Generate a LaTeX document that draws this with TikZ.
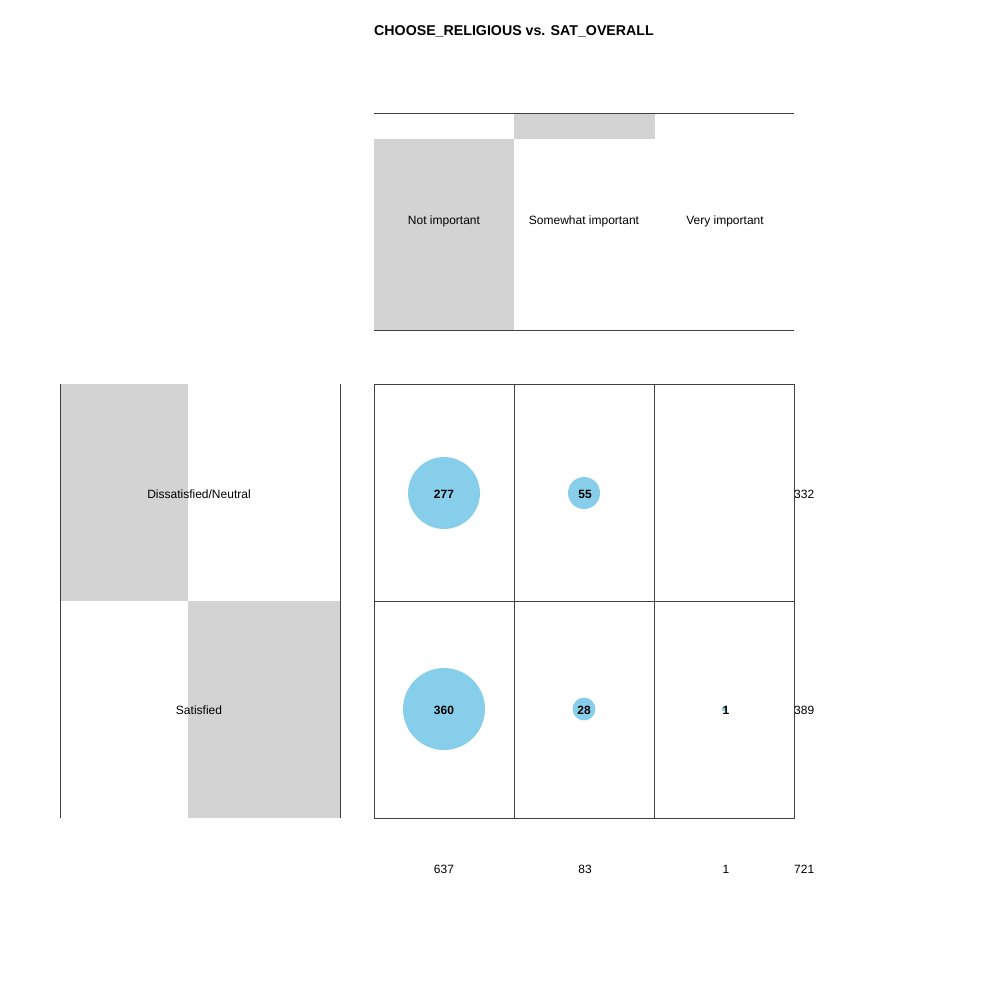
\documentclass[tikz,border=0pt]{standalone}
\usepackage{fontspec}
\setmainfont{Liberation Sans}
\definecolor{skyblue}{HTML}{87CEEB}
\definecolor{lightgray}{HTML}{D3D3D3}
\tikzset{
  frame/.style={draw=black!75,line width=0.9pt},
  lab/.style={font=\fontsize{12}{14}\selectfont,inner sep=0pt},
  count/.style={font=\fontsize{12}{14}\selectfont\bfseries,inner sep=0pt}
}
\begin{document}
\begin{tikzpicture}[x=1pt,y=-1pt]
\useasboundingbox (0,0) rectangle (1000,1000);
\node (title) [anchor=west,inner sep=0pt,font=\fontsize{14.2}{16}\selectfont\bfseries] at (374,31) {CHOOSE\_RELIGIOUS vs. SAT\_OVERALL};
% column header
\fill [lightgray] (374,139) rectangle (514,330);
\fill [lightgray] (514,113) rectangle (655,139);
\draw [frame] (374,113) -- (794,113);
\draw [frame] (374,330) -- (794,330);
\node (notimp) [lab] at (444,221) {Not important};
\node (someimp) [lab] at (584,221) {Somewhat important};
\node (veryimp) [lab] at (725,221) {Very important};
% row header
\fill [lightgray] (60,384) rectangle (188,601);
\fill [lightgray] (188,601) rectangle (340,818);
\draw [frame] (60,384) -- (60,818);
\draw [frame] (340,384) -- (340,818);
\node (dissat) [lab] at (199,494) {Dissatisfied/Neutral};
\node (sat) [lab] at (199,710) {Satisfied};
% table
\draw [frame] (374,384) rectangle (794,818);
\draw [frame] (514,384) -- (514,818);
\draw [frame] (654,384) -- (654,818);
\draw [frame] (374,601) -- (794,601);
% circles, radius ~ sqrt(n)
\foreach \x/\y/\n/\name/\dx in {444/493/277/c11/0,584/493/55/c12/1,444/709/360/c21/0,584/709/28/c22/0,724/709/1/c23/2}{
  \fill [skyblue] (\x,\y) circle ({2.16*sqrt(\n)});
  \node (\name) [count] at (\x+\dx,\y+1) {\n};
}
% totals
\node (r1) [lab,anchor=west] at (794,494) {332};
\node (r2) [lab,anchor=west] at (794,710) {389};
\node (k1) [lab] at (444,869) {637};
\node (k2) [lab] at (585,869) {83};
\node (k3) [lab] at (726,869) {1};
\node (tot) [lab,anchor=west] at (794,869) {721};
\end{tikzpicture}
\end{document}
